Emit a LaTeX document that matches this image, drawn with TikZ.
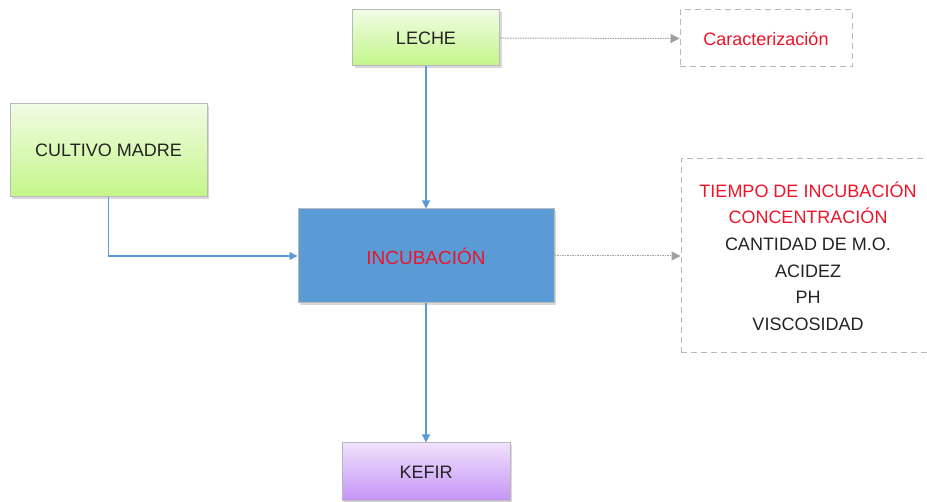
\documentclass[tikz,border=0pt]{standalone}
\usepackage{fontspec}
\setmainfont{Liberation Sans}
\usetikzlibrary{arrows.meta,shadows}

\definecolor{boxgray}{RGB}{185,185,185}
\definecolor{flowblue}{RGB}{91,155,213}
\definecolor{dotgray}{RGB}{160,160,160}
\definecolor{textred}{RGB}{235,20,40}
\definecolor{textdark}{RGB}{35,35,35}

\tikzset{every picture/.style={line width=0.75pt}}
\tikzset{
  procbox/.style={draw=boxgray, line width=1pt, minimum width=147pt, minimum height=56pt,
    drop shadow={shadow xshift=2pt, shadow yshift=-2pt, opacity=0.3},
    font=\fontsize{18}{22}\selectfont, text=textdark},
  greenbox/.style={procbox, top color={rgb,255:red,240;green,252;blue,228}, bottom color={rgb,255:red,196;green,246;blue,136}},
  purplebox/.style={procbox, top color={rgb,255:red,240;green,225;blue,252}, bottom color={rgb,255:red,196;green,148;blue,246}},
  notebox/.style={draw=boxgray, dash pattern=on 6pt off 4pt, line width=1pt, align=center,
    font=\fontsize{18}{26.6}\selectfont},
  flow/.style={draw=flowblue, line width=1.2pt, -{Triangle[width=8pt,length=8pt]}},
  dotflow/.style={draw=dotgray, line width=1pt, dash pattern=on 1.5pt off 1pt, -{Triangle[width=9pt,length=9pt,fill=dotgray]}}
}

\begin{document}
\begin{tikzpicture}[x=1pt,y=1pt,yscale=-1,xscale=1]
\useasboundingbox (0,0) rectangle (927,502);

%Shape: Rectangle [LECHE]
\node (leche) [greenbox] at (426,38) {LECHE};
%Shape: Rectangle [CULTIVO MADRE]
\node (cultivo) [greenbox, minimum width=197pt, minimum height=93pt] at (108.5,150.5) {CULTIVO MADRE};
%Shape: Rectangle [INCUBACION]
\node (incub) [procbox, fill=flowblue, minimum width=256pt, minimum height=94pt, text=textred,
  font=\fontsize{19}{22}\selectfont] at (426,256) {INCUBACIÓN};
%Shape: Rectangle [KEFIR]
\node (kefir) [purplebox, minimum width=168pt, minimum height=58pt] at (426,472) {KEFIR};

%Shape: Dashed Rectangle [Caracterizacion]
\node (carac) [notebox, minimum width=172pt, minimum height=57pt, text=textred] at (766,38.5) {Caracterización};
%Shape: Dashed Rectangle [parametros]
\node (param) [notebox, minimum width=254pt, minimum height=194pt, text=textdark] at (808,256)
  {\textcolor{textred}{TIEMPO DE INCUBACIÓN}\\ \textcolor{textred}{CONCENTRACIÓN}\\ CANTIDAD DE M.O.\\ ACIDEZ\\ PH\\ VISCOSIDAD};

%Straight Lines
\draw [flow] (leche.south) -- (incub.north);
\draw [flow] (cultivo.south) |- (incub.west);
\draw [flow] (incub.south) -- (kefir.north);

%Dotted Lines
\draw [dotflow] (leche.east) -- (carac.west);
\draw [dotflow] (incub.east) -- (param.west);

\end{tikzpicture}
\end{document}
